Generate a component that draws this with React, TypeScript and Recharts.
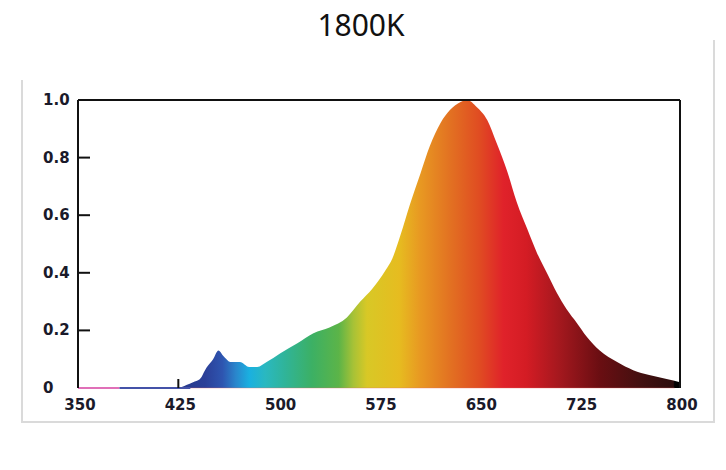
import React from 'react';
import { AreaChart, Area, XAxis, YAxis, ReferenceLine } from 'recharts';

// spectrum (nm, relative intensity)
const wavelengths = [
  350, 380, 425, 431, 436, 441, 446, 451, 455, 458, 461, 464, 471, 478, 484, 491, 501, 514, 526, 538,
  551, 561, 570, 575, 580, 585, 591, 598, 606, 613, 621, 628, 636, 641, 648, 656, 663, 671, 678, 686,
  693, 701, 708, 715, 723, 730, 740, 753, 765, 777, 790, 800,
];
const intensity = [
  0, 0, 0, 0.01, 0.02, 0.03, 0.07, 0.1, 0.13, 0.115, 0.1, 0.09, 0.09, 0.073, 0.073, 0.09, 0.12, 0.155, 0.19, 0.21,
  0.245, 0.3, 0.345, 0.375, 0.41, 0.45, 0.53, 0.635, 0.745, 0.84, 0.92, 0.965, 0.993, 1.0, 0.976, 0.93, 0.85, 0.75, 0.645, 0.55,
  0.47, 0.395, 0.33, 0.275, 0.225, 0.18, 0.13, 0.09, 0.062, 0.045, 0.031, 0.02,
];

const xTicks = [350, 425, 500, 575, 650, 725, 800];
const yTicks = [0, 0.2, 0.4, 0.6, 0.8, 1.0];
const yTickLabels = ['0', '0.2', '0.4', '0.6', '0.8', '1.0'];

// colour of the fill by wavelength
const stopWavelengths = [425, 445, 458, 468, 478, 490, 505, 525, 545, 556, 566, 590, 605, 630, 650, 668, 685, 710, 740, 770, 795, 796, 800];
const stopColors = [
  '#283a8c', '#2b3f98', '#2e55b0', '#2a86cc', '#1ab0e0', '#2ab8c0', '#30b498', '#3cb064', '#5cb448', '#a8c236',
  '#d8c826', '#e6bc20', '#e89a22', '#e26e22', '#e04c22', '#e0222a', '#d41c24', '#a4181e', '#6a0e12', '#441010',
  '#2c0c0c', '#000000', '#000000',
];

const data = wavelengths.map((w, i) => ({ w, v: intensity[i] }));

const TEXT = '#1a1a2a';
const tickFont = { fontFamily: '"DejaVu Sans", sans-serif', fontWeight: 700, fontSize: 15 };

const YTick = (props: any) => {
  const { x, y, payload } = props;
  const i = yTicks.indexOf(payload.value);
  const inner = payload.value > 0 && payload.value < 1;
  return (
    <g>
      {inner && <line x1={x} y1={y} x2={x + 12} y2={y} stroke="#111" strokeWidth={2} />}
      <text x={x - 35} y={y + 5} textAnchor="start" fill={TEXT} style={tickFont}>
        {yTickLabels[i]}
      </text>
    </g>
  );
};

const XTick = (props: any) => {
  const { x, y, payload } = props;
  return (
    <g>
      {payload.value === 425 && <line x1={x} y1={y} x2={x} y2={y - 9} stroke="#111" strokeWidth={2} />}
      <text x={x + 2} y={y + 22} textAnchor="middle" fill={TEXT} style={tickFont}>
        {payload.value}
      </text>
    </g>
  );
};

export default function App() {
  return (
    <div style={{ position: 'absolute', left: 0, top: 0, width: 726, height: 470, background: '#fff' }}>
      <div
        style={{
          position: 'absolute', left: 0, top: 10, width: 722, textAlign: 'center',
          fontFamily: '"Noto Sans", sans-serif', fontSize: 30, lineHeight: '30px', color: '#111',
        }}
      >
        1800K
      </div>
      {/* light grey frame round the plot */}
      <div
        style={{
          position: 'absolute', left: 21, top: 80, width: 691, height: 341,
          borderLeft: '2px solid #dadada', borderBottom: '2px solid #dadada',
        }}
      />
      <div style={{ position: 'absolute', left: 713, top: 40, width: 2, height: 383, background: '#dadada' }} />
      <div style={{ position: 'absolute', left: 0, top: 0 }}>
        <AreaChart width={726} height={470} data={data} margin={{ top: 100, right: 46, left: 38, bottom: 52 }}>
          <defs>
            <linearGradient id="spectrum" x1="0" y1="0" x2="1" y2="0">
              {stopWavelengths.map((w, i) => (
                <stop key={w} offset={`${((w - 350) / 450) * 100}%`} stopColor={stopColors[i]} />
              ))}
            </linearGradient>
          </defs>
          <XAxis
            dataKey="w"
            type="number"
            domain={[350, 800]}
            ticks={xTicks}
            height={30}
            tickSize={0}
            tickMargin={0}
            tick={<XTick />}
            axisLine={false}
            tickLine={false}
            interval={0}
          />
          <YAxis
            type="number"
            domain={[0, 1]}
            ticks={yTicks}
            width={40}
            tickSize={0}
            tickMargin={0}
            tick={<YTick />}
            axisLine={{ stroke: '#111', strokeWidth: 2 }}
            tickLine={false}
            interval={0}
          />
          <Area
            type="monotone"
            dataKey="v"
            stroke="none"
            fill="url(#spectrum)"
            fillOpacity={1}
            isAnimationActive={false}
            dot={false}
            activeDot={false}
          />
          <ReferenceLine segment={[{ x: 350, y: 0 }, { x: 381, y: 0 }]} stroke="#e070b8" strokeWidth={2} />
          <ReferenceLine segment={[{ x: 381, y: 0 }, { x: 434, y: 0 }]} stroke="#4452a8" strokeWidth={2} />
          <ReferenceLine segment={[{ x: 434, y: 0 }, { x: 796, y: 0 }]} stroke="#e06a6a" strokeOpacity={0.35} strokeWidth={1} />
          <ReferenceLine y={1} stroke="#111" strokeWidth={2} />
          <ReferenceLine x={800} stroke="#111" strokeWidth={2} />
        </AreaChart>
      </div>
    </div>
  );
}
